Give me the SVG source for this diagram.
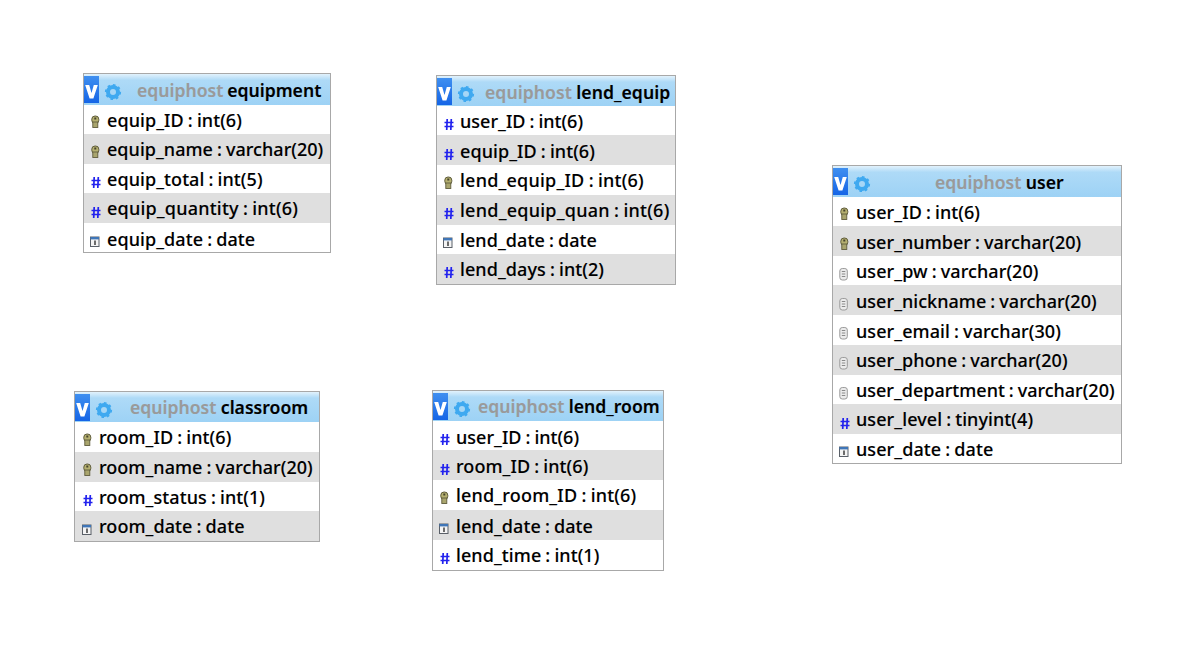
<svg xmlns="http://www.w3.org/2000/svg" width="1198" height="649" viewBox="0 0 1198 649">
<style>
text{font-family:"Noto Sans","Open Sans","Liberation Sans",sans-serif;font-size:18px;font-weight:500;fill:#000;stroke:#000;stroke-width:.12px;letter-spacing:.08px;word-spacing:-.7px}
.t{font-size:17.6px;font-weight:600;word-spacing:-.2px;letter-spacing:0}
.db{fill:#9a9a9a;stroke:#9a9a9a}
.box{fill:#fff;stroke:#a8a8a8;stroke-width:1}
.alt{fill:#dfdfdf}
.head{fill:url(#hg)}
</style>
<defs>
<linearGradient id="hg" x1="0" y1="0" x2="0" y2="1"><stop offset="0" stop-color="#e2f2fc"/><stop offset="0.2" stop-color="#aedaf7"/><stop offset="1" stop-color="#9dd2f5"/></linearGradient>
<linearGradient id="vg" x1="0" y1="0" x2="0" y2="1"><stop offset="0" stop-color="#3f8ff0"/><stop offset="1" stop-color="#1565e6"/></linearGradient>
<g id="ctl">
<rect x="0" y="2" width="15" height="27" fill="url(#vg)"/>
<path d="M1.200 11 L5.200 11 L7.500 19 L9.800 11 L13.800 11 L9.400 24.500 L5.600 24.500 Z" fill="#fff"/>
<circle cx="29" cy="18" r="5" fill="none" stroke="#3fa9f0" stroke-width="4"/>
<circle cx="29" cy="18" r="7.200" fill="none" stroke="#3fa9f0" stroke-width="1.800" stroke-dasharray="2.600 3"/>
</g>
<g id="key">
<rect x="-4.200" y="-6" width="7" height="7.500" rx="3.200" fill="#b5b070" stroke="#5f5c3c"/>
<rect x="-3.200" y="0" width="5" height="5.500" fill="#a9a56d" stroke="#5f5c3c" stroke-width=".9"/>
<rect x="-1.700" y="-4.500" width="2" height="2" fill="#45432b"/>
</g>
<g id="num" stroke="#2222ee" stroke-width="1.700" fill="none">
<path d="M-1.800 -5 L-2.300 6 M2.300 -5 L1.800 6 M-4.500 -1.500 H4.500 M-4.500 2.500 H4.500"/>
</g>
<g id="dat">
<rect x="-5.500" y="-4" width="8.500" height="9.500" fill="#f4f4f4" stroke="#5a6068"/>
<rect x="-5.500" y="-4" width="8.500" height="2.400" fill="#3f76b8"/>
<path d="M-1 -.5 V4" stroke="#222" stroke-width="1.300"/>
</g>
<g id="str">
<rect x="-5.200" y="-5.500" width="7.500" height="11.500" rx="2.500" fill="#ebebeb" stroke="#9a9a9a"/>
<path d="M-3.200 -2.500 H.3 M-3.200 0 H.3 M-3.200 2.500 H.3" stroke="#8a8a8a" stroke-width="1"/>
</g>
</defs>
<rect width="1198" height="649" fill="#fff"/>

<g id="connectors"></g>

<g id="equipment">
<rect class="box" x="83.500" y="73.500" width="247" height="179"/>
<rect class="head" x="84" y="74" width="246" height="31"/>
<use href="#ctl" x="84" y="74"/>
<text class="t" x="137" y="97" style="word-spacing:-.8px"><tspan class="db">equiphost</tspan> equipment</text>
<rect class="alt" x="84" y="134" width="246" height="30"/>
<rect class="alt" x="84" y="193" width="246" height="30"/>
<use href="#key" x="96" y="122"/><text x="107" y="127">equip_ID : int(6)</text>
<use href="#key" x="96" y="152"/><text x="107" y="156" style="letter-spacing:.04px">equip_name : varchar(20)</text>
<use href="#num" x="96" y="182"/><text x="107" y="186">equip_total : int(5)</text>
<use href="#num" x="96" y="212"/><text x="107" y="215" style="letter-spacing:.21px">equip_quantity : int(6)</text>
<use href="#dat" x="96" y="241"/><text x="107" y="246">equip_date : date</text>
</g>

<g id="lend_equip">
<rect class="box" x="436.500" y="75.500" width="239" height="209"/>
<rect class="head" x="437" y="76" width="238" height="30"/>
<use href="#ctl" x="437" y="76"/>
<text class="t" x="485" y="99" style="letter-spacing:.05px"><tspan class="db">equiphost</tspan> lend_equip</text>
<rect class="alt" x="437" y="135" width="238" height="30"/>
<rect class="alt" x="437" y="195" width="238" height="30"/>
<rect class="alt" x="437" y="254" width="238" height="30"/>
<use href="#num" x="449" y="124"/><text x="460" y="128" style="letter-spacing:.02px">user_ID : int(6)</text>
<use href="#num" x="449" y="154"/><text x="460" y="158">equip_ID : int(6)</text>
<use href="#key" x="449" y="183"/><text x="460" y="187" style="letter-spacing:.22px">lend_equip_ID : int(6)</text>
<use href="#num" x="449" y="213"/><text x="460" y="217" style="letter-spacing:.25px">lend_equip_quan : int(6)</text>
<use href="#dat" x="449" y="242"/><text x="460" y="247">lend_date : date</text>
<use href="#num" x="449" y="272"/><text x="460" y="276">lend_days : int(2)</text>
</g>

<g id="user">
<rect class="box" x="832.500" y="165.500" width="289" height="298"/>
<rect class="head" x="833" y="166" width="288" height="31"/>
<use href="#ctl" x="833" y="166"/>
<text class="t" x="935" y="189"><tspan class="db">equiphost</tspan> user</text>
<rect class="alt" x="833" y="226" width="288" height="30"/>
<rect class="alt" x="833" y="285" width="288" height="30"/>
<rect class="alt" x="833" y="345" width="288" height="30"/>
<rect class="alt" x="833" y="404" width="288" height="30"/>
<use href="#key" x="845" y="214"/><text x="856" y="219">user_ID : int(6)</text>
<use href="#key" x="845" y="244"/><text x="856" y="249" style="letter-spacing:.04px">user_number : varchar(20)</text>
<use href="#str" x="845" y="274"/><text x="856" y="278">user_pw : varchar(20)</text>
<use href="#str" x="845" y="304"/><text x="856" y="308" style="letter-spacing:.04px">user_nickname : varchar(20)</text>
<use href="#str" x="845" y="333"/><text x="856" y="338">user_email : varchar(30)</text>
<use href="#str" x="845" y="363"/><text x="856" y="367" style="letter-spacing:.04px">user_phone : varchar(20)</text>
<use href="#str" x="845" y="393"/><text x="856" y="397" style="letter-spacing:0">user_department : varchar(20)</text>
<use href="#num" x="845" y="423"/><text x="856" y="426">user_level : tinyint(4)</text>
<use href="#dat" x="845" y="451"/><text x="856" y="456">user_date : date</text>
</g>

<g id="classroom">
<rect class="box" x="74.500" y="391.500" width="245" height="150"/>
<rect class="head" x="75" y="392" width="244" height="30"/>
<use href="#ctl" x="75" y="392"/>
<text class="t" x="130" y="414"><tspan class="db">equiphost</tspan> classroom</text>
<rect class="alt" x="75" y="452" width="244" height="30"/>
<rect class="alt" x="75" y="511" width="244" height="30"/>
<use href="#key" x="88" y="440"/><text x="99" y="444">room_ID : int(6)</text>
<use href="#key" x="88" y="470"/><text x="99" y="474" style="letter-spacing:.04px">room_name : varchar(20)</text>
<use href="#num" x="88" y="500"/><text x="99" y="504">room_status : int(1)</text>
<use href="#dat" x="88" y="529"/><text x="99" y="533">room_date : date</text>
</g>

<g id="lend_room">
<rect class="box" x="432.500" y="390.500" width="231" height="180"/>
<rect class="head" x="433" y="391" width="230" height="30"/>
<use href="#ctl" x="433" y="391"/>
<text class="t" x="478" y="413"><tspan class="db">equiphost</tspan> lend_room</text>
<rect class="alt" x="433" y="450" width="230" height="30"/>
<rect class="alt" x="433" y="510" width="230" height="30"/>
<use href="#num" x="445" y="439"/><text x="456" y="444" style="letter-spacing:.02px">user_ID : int(6)</text>
<use href="#num" x="445" y="469"/><text x="456" y="473">room_ID : int(6)</text>
<use href="#key" x="445" y="498"/><text x="456" y="502" style="letter-spacing:.18px">lend_room_ID : int(6)</text>
<use href="#dat" x="445" y="528"/><text x="456" y="533">lend_date : date</text>
<use href="#num" x="445" y="558"/><text x="456" y="562">lend_time : int(1)</text>
</g>
</svg>
